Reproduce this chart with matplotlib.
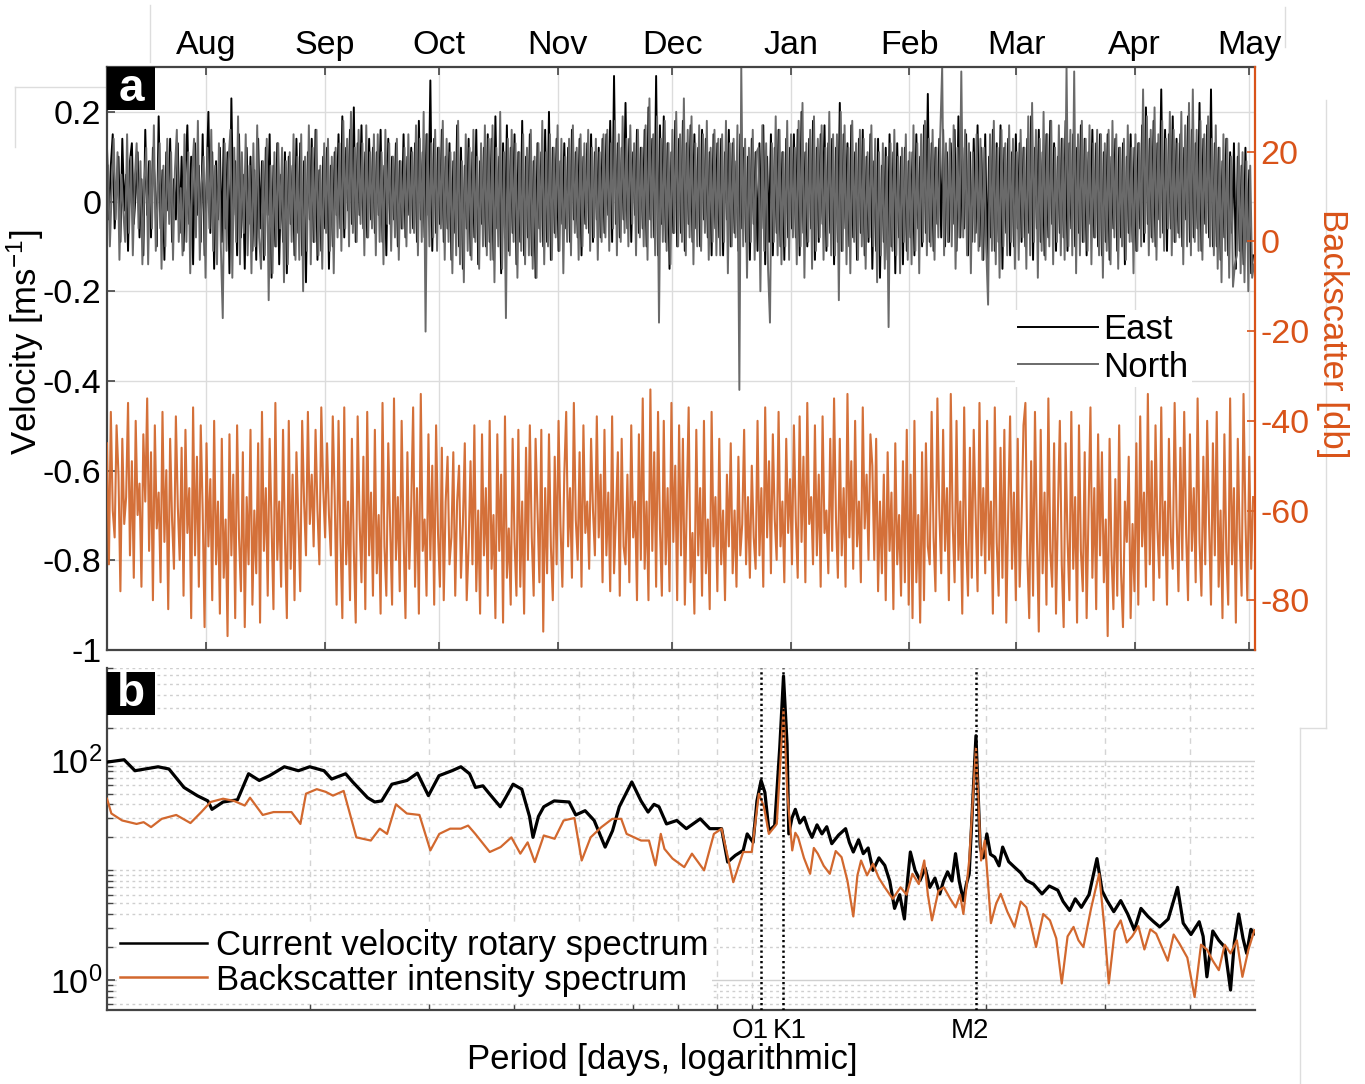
import numpy as np
import matplotlib
matplotlib.use('Agg')
import matplotlib.pyplot as plt
import matplotlib.dates as mdates
from matplotlib.patches import Rectangle
from matplotlib.lines import Line2D
from datetime import datetime

plt.rcParams['font.family'] = 'Liberation Sans'
plt.rcParams['mathtext.fontset'] = 'custom'
plt.rcParams['mathtext.rm'] = 'Liberation Sans'
plt.rcParams['mathtext.it'] = 'Liberation Sans:italic'
plt.rcParams['mathtext.bf'] = 'Liberation Sans:bold'
plt.rcParams['axes.unicode_minus'] = False

# ---------------- data ----------------
# record window and month labels
record_start = datetime(2013, 7, 6)
record_end = datetime(2014, 5, 2, 12)
month_names = ['Aug', 'Sep', 'Oct', 'Nov', 'Dec', 'Jan', 'Feb', 'Mar', 'Apr', 'May']
month_starts = [datetime(2013, 8, 1), datetime(2013, 9, 1), datetime(2013, 10, 1),
                datetime(2013, 11, 1), datetime(2013, 12, 1), datetime(2014, 1, 1),
                datetime(2014, 2, 1), datetime(2014, 3, 1), datetime(2014, 4, 1),
                datetime(2014, 5, 1)]

# 12 h velocity samples [cm/s]
east_cm = [
    12, -4, 8, 15, -6, 3, 10, -9, 14, -2, 6, -11, 9, 13, -5, 2, 11, -8, 5, -12,
    16, -3, 9, -8, 12, 4, -10, 19, -6, 7, -13, 11, -2, 14, -9, 5, -4, 13, -7, 10,
    -11, 6, 17, -5, 10, -14, 13, -3, 8, -9, 15, -12, 4, 20, -7, 11, -15, 9, -4, 12,
    -9, 14, -6, 11, -16, 23, -3, 9, -12, 15, -8, 6, -15, 12, -5, 10, -11, 7, -13, 14,
    -6, 9, -13, 12, -3, 15, -17, 8, -10, 13, -14, 6, -9, 11, -16, 10, -5, 8, -12, 14,
    -7, 13, -12, 9, -18, 11, -4, 14, -9, 16, -13, 7, -11, 10, -6, 12, -15, 8, -10, 11,
    -3, 15, -6, 19, -8, 12, -2, 16, -5, 21, -9, 13, -3, 17, -6, 11, -8, 14, -4, 12,
    -7, 11, -3, 16, -9, 8, -12, 14, -5, 10, -4, 13, -10, 9, -6, 15, -8, 10, -3, 12,
    -6, 13, -9, 18, -4, 11, -8, 15, -3, 27, -11, 14, -7, 12, -5, 16, -9, 10, -6, 13,
    -13, 9, -7, 17, -10, 12, -15, 8, -6, 14, -12, 11, -8, 16, -14, 9, -5, 12, -10, 15,
    -9, 14, -13, 19, -6, 10, -16, 13, -8, 17, -11, 12, -7, 15, -14, 11, -9, 18, -12, 10,
    -8, 15, -12, 9, -17, 13, -6, 11, -10, 16, -9, 20, -13, 12, -7, 14, -11, 9, -5, 13,
    -6, 12, -9, 16, -4, 11, -8, 14, -12, 10, -5, 13, -7, 15, -9, 11, -4, 12, -8, 14,
    -7, 15, -3, 18, -9, 28, -5, 13, -8, 12, -4, 22, -6, 14, -9, 11, -3, 16, -7, 12,
    -6, 16, -10, 21, -4, 14, -8, 28, -12, 17, -5, 19, -9, 13, -15, 11, -7, 18, -10, 14,
    -7, 18, -11, 13, -5, 17, -9, 15, -6, 12, -10, 16, -4, 14, -8, 11, -12, 15, -6, 13,
    -8, 14, -12, 11, -4, 16, -10, 13, -7, 9, -11, 15, -6, 12, -9, 10, -13, 14, -5, 11,
    -11, 13, -6, 17, -14, 10, -9, 15, -12, 12, -7, 16, -10, 11, -13, 14, -8, 12, -6, 15,
    -8, 16, -12, 20, -7, 11, -10, 14, -6, 18, -13, 12, -9, 15, -5, 17, -11, 13, -7, 14,
    -14, 12, -9, 22, -11, 15, -6, 13, -10, 17, -8, 11, -13, 14, -7, 16, -12, 10, -9, 15,
    -15, 9, -11, 14, -17, 8, -9, 12, -13, 15, -10, 11, -16, 13, -8, 10, -14, 12, -11, 9,
    -8, 11, -12, 15, -6, 10, -10, 17, -7, 24, -9, 13, -11, 12, -5, 14, -8, 16, -10, 11,
    -9, 13, -5, 16, -11, 19, -8, 12, -6, 15, -12, 11, -9, 14, -7, 17, -10, 12, -13, 15,
    -14, 10, -8, 16, -11, 13, -9, 17, -15, 12, -7, 14, -12, 11, -10, 15, -6, 13, -9, 12,
    -10, 14, -7, 19, -13, 12, -6, 16, -9, 11, -12, 15, -8, 18, -5, 13, -11, 10, -7, 14,
    -8, 18, -11, 13, -6, 15, -10, 12, -7, 17, -9, 14, -12, 11, -5, 16, -8, 13, -10, 15,
    -12, 11, -9, 15, -13, 10, -6, 14, -11, 12, -8, 13, -14, 10, -7, 15, -9, 12, -11, 13,
    -6, 17, -9, 21, -5, 14, -8, 18, -10, 13, -4, 25, -7, 16, -11, 15, -6, 19, -9, 14,
    -7, 15, -10, 12, -4, 19, -9, 16, -8, 13, -6, 22, -11, 14, -5, 17, -8, 25, -10, 13,
    -10, 12, -13, 9, -8, 14, -12, 11, -7, 13, -15, 10, -11, 8, -14, 12, -9, 7, -16, -12]

north_cm = [
    8, -10, 3, 14, -4, 11, -13, 6, -2, -9, 15, -7, 10, -12, 5, 13, -6, 9, -14, 4,
    12, -14, 9, -6, 17, -11, 2, 13, -15, 8, -10, 14, -5, 11, -13, 7, 16, -9, 3, -12,
    15, -9, 11, -16, 6, 14, -8, 18, -13, 4, 10, -17, 12, -6, 16, -11, 8, -14, 13, -10,
    -26, 13, -11, 9, 16, -17, 12, -9, 19, -14, 11, -7, 15, -12, 8, -16, 13, -10, 17, -8,
    -15, 9, -12, 14, -22, 8, -16, 11, -10, 13, -6, 12, -18, 9, -14, 11, -9, 15, -13, 10,
    -13, 15, -20, 10, -11, 17, -14, 12, -9, 16, -12, 8, -15, 13, -7, 14, -11, 10, -16, 12,
    -8, 13, -11, 18, -6, 14, -10, 20, -7, 12, -9, 16, -5, 13, -12, 17, -8, 11, -6, 15,
    -12, 15, -9, 11, -14, 16, -5, 13, -11, 10, -8, 14, -13, 9, -6, 12, -10, 15, -7, 11,
    -7, 17, -12, 14, -9, 20, -29, 15, -10, 13, -8, 16, -11, 12, -6, 18, -13, 14, -9, 11,
    -16, 11, -12, 18, -14, 9, -18, 15, -11, 12, -13, 16, -9, 10, -15, 13, -10, 17, -12, 14,
    -13, 17, -18, 12, -10, 20, -15, 11, -26, 14, -12, 16, -9, 13, -17, 11, -11, 15, -14, 12,
    -12, 16, -15, 10, -17, 13, -9, 18, -14, 11, -10, 15, -13, 12, -8, 17, -11, 14, -16, 10,
    -9, 14, -12, 17, -7, 12, -13, 15, -10, 13, -6, 16, -11, 12, -8, 14, -13, 11, -9, 15,
    -8, 16, -11, 13, -6, 18, -12, 15, -9, 19, -7, 14, -10, 17, -5, 13, -12, 16, -8, 12,
    -10, 17, -13, 23, -8, 15, -12, 19, -27, 14, -9, 18, -11, 13, -14, 16, -7, 20, -10, 15,
    -9, 23, -12, 16, -8, 19, -14, 13, -10, 17, -11, 15, -7, 18, -13, 12, -9, 16, -12, 14,
    -12, 15, -9, 18, -16, 13, -10, 14, -8, 17, -42, 30, -10, 14, -17, 12, -9, 16, -13, 11,
    12, -20, 17, -11, 13, -15, -27, 13, -9, 19, -12, 16, -14, 11, -10, 18, -13, 15, -8, 12,
    -14, 18, -10, 22, -17, 13, -9, 16, -15, 19, -11, 14, -8, 17, -13, 12, -10, 20, -12, 15,
    -12, 15, -22, 20, -11, 17, -14, 12, -16, 18, -9, 13, -13, 16, -10, 14, -15, 11, -8, 17,
    -10, 14, -18, 11, -12, 13, -15, 10, -28, 13, -11, 16, -12, 10, -16, 12, -9, 15, -13, 11,
    -14, 17, -11, 13, -16, 15, -9, 18, -12, 14, -10, 16, -13, 12, -8, 15, 30, -12, 13, -9,
    14, -10, 17, -15, 12, -8, 29, -8, 16, -12, 13, -16, 11, -9, 15, -11, 14, -13, 12, -10,
    -23, 15, -11, 18, -14, 12, -17, 16, -10, 13, -12, 17, -9, 14, -15, 11, -13, 16, -8, 12,
    -15, 19, -12, 22, -9, 16, -17, 14, -11, 20, -13, 15, -10, 18, -14, 12, -9, 17, -12, 14,
    -13, 30, -10, 16, -12, 29, -16, 15, -12, 18, -9, 14, -11, 17, -14, 13, -8, 16, -12, 15,
    -17, 13, -11, 16, -14, 18, -8, 15, -15, 12, -10, 14, -13, 17, -9, 12, -16, 15, -11, 13,
    -10, 25, -7, 19, -12, 16, -9, 21, -13, 15, -8, 18, -11, 14, -6, 20, -12, 16, -9, 13,
    -8, 20, -14, 17, -10, 22, -12, 25, -9, 16, -11, 18, -13, 15, -7, 19, -10, 14, -12, 17,
    -15, 12, -18, 15, -11, 14, -17, 10, -19, -14, -12, 13, -16, 11, -18, 9, -20, 8, -17, -14]

# 12 h backscatter intensity samples [dB]
backscatter_db = [
    -45, -72, -38, -60, -66, -41, -52, -78, -44, -63, -57, -36, -70, -49, -75, -40, -61, -54, -77, -43,
    -58, -35, -69, -47, -80, -41, -64, -56, -76, -38, -67, -51, -82, -44, -62, -73, -39, -59, -71, -46,
    -79, -42, -65, -55, -84, -37, -70, -48, -77, -41, -60, -86, -45, -68, -53, -80, -40, -72, -58, -83,
    -44, -75, -62, -88, -43, -70, -52, -84, -41, -66, -78, -47, -86, -57, -72, -42, -81, -60, -74, -45,
    -85, -38, -69, -55, -79, -44, -63, -82, -36, -71, -58, -77, -42, -66, -84, -40, -73, -52, -80, -47,
    -62, -78, -40, -58, -70, -38, -63, -52, -68, -42, -60, -72, -37, -55, -66, -45, -61, -70, -39, -57,
    -81, -40, -66, -84, -37, -72, -58, -80, -44, -69, -85, -39, -62, -76, -48, -82, -38, -70, -56, -79,
    -42, -74, -61, -83, -36, -68, -79, -45, -64, -81, -35, -71, -57, -78, -40, -66, -84, -47, -73, -59,
    -37, -77, -55, -83, -34, -69, -62, -79, -43, -71, -50, -81, -41, -65, -77, -46, -80, -58, -48, -72,
    -66, -47, -79, -58, -50, -75, -63, -45, -80, -68, -49, -72, -41, -78, -60, -83, -43, -70, -55, -79,
    -40, -73, -61, -84, -43, -69, -52, -85, -39, -75, -64, -81, -44, -67, -79, -42, -77, -58, -83, -46,
    -71, -41, -66, -79, -44, -60, -76, -42, -87, -55, -74, -43, -68, -80, -48, -72, -40, -63, -77, -52,
    -38, -68, -55, -75, -36, -62, -71, -47, -77, -41, -65, -58, -73, -44, -60, -70, -39, -66, -52, -76,
    -42, -70, -56, -78, -39, -74, -61, -47, -79, -44, -68, -72, -52, -76, -41, -66, -58, -80, -43, -71,
    -35, -73, -58, -80, -33, -69, -47, -77, -38, -64, -79, -40, -72, -55, -78, -36, -67, -50, -80, -41,
    -70, -44, -81, -59, -37, -76, -65, -83, -42, -70, -55, -79, -40, -74, -62, -82, -38, -68, -57, -78,
    -44, -72, -60, -80, -52, -68, -45, -74, -60, -77, -48, -70, -63, -42, -72, -57, -75, -50, -66, -73,
    -40, -70, -55, -77, -37, -66, -49, -74, -43, -62, -71, -38, -68, -58, -76, -44, -65, -53, -72, -41,
    -62, -75, -39, -67, -48, -76, -36, -63, -57, -72, -41, -70, -52, -77, -39, -65, -60, -74, -44, -69,
    -35, -62, -75, -44, -70, -55, -77, -34, -66, -49, -73, -40, -68, -58, -76, -37, -64, -52, -71, -43,
    -50, -71, -44, -78, -58, -74, -52, -80, -47, -69, -56, -82, -45, -72, -61, -79, -49, -76, -42, -81,
    -52, -84, -40, -76, -61, -85, -47, -80, -45, -68, -72, -38, -66, -78, -35, -60, -74, -42, -69, -55,
    -80, -34, -63, -76, -40, -71, -58, -83, -37, -67, -79, -46, -75, -42, -61, -78, -36, -70, -55, -74,
    -40, -71, -58, -83, -37, -67, -79, -46, -75, -42, -85, -61, -39, -73, -56, -80, -44, -77, -62, -41,
    -36, -70, -84, -49, -79, -38, -65, -87, -42, -74, -56, -81, -35, -69, -77, -45, -83, -60, -40, -72,
    -86, -45, -66, -80, -38, -73, -57, -85, -41, -69, -78, -47, -84, -61, -37, -75, -55, -82, -43, -70,
    -47, -76, -62, -88, -44, -70, -82, -53, -79, -41, -74, -86, -58, -67, -48, -84, -63, -78, -45, -81,
    -39, -68, -56, -77, -34, -72, -49, -80, -41, -64, -75, -37, -70, -58, -81, -44, -66, -73, -36, -61,
    -78, -46, -71, -38, -65, -80, -43, -69, -55, -76, -35, -67, -79, -48, -72, -40, -63, -81, -45, -70,
    -38, -77, -60, -84, -43, -69, -81, -35, -72, -55, -85, -44, -66, -79, -34, -62, -80, -48, -73, -57]

# spectra vs frequency [cycles per day]
velocity_freq = [0.100, 0.106, 0.110, 0.119, 0.1235, 0.130, 0.136, 0.141, 0.143, 0.1485,
                 0.156, 0.162, 0.168, 0.174, 0.183, 0.192, 0.1995, 0.2095, 0.215, 0.2255,
                 0.231, 0.243, 0.249, 0.255, 0.264, 0.278, 0.288, 0.299, 0.310, 0.324,
                 0.334, 0.344, 0.351, 0.360, 0.368, 0.382, 0.389, 0.399, 0.411, 0.422,
                 0.427, 0.435, 0.443, 0.459, 0.483, 0.494, 0.510, 0.526, 0.546, 0.560,
                 0.573, 0.598, 0.617, 0.632, 0.645, 0.656, 0.673, 0.697, 0.720, 0.755,
                 0.780, 0.812, 0.829, 0.851, 0.874, 0.886, 0.904, 0.916, 0.929, 0.941,
                 0.954, 0.973, 0.990, 1.0027, 1.015,
                 1.021, 1.032, 1.044, 1.060, 1.076, 1.09, 1.105, 1.124, 1.143, 1.162,
                 1.182, 1.21, 1.239, 1.255, 1.272, 1.295, 1.316, 1.338, 1.360, 1.388,
                 1.416, 1.44, 1.464, 1.49, 1.514, 1.53, 1.545, 1.57, 1.597, 1.625,
                 1.651, 1.68, 1.708, 1.73, 1.754, 1.78, 1.802, 1.825, 1.851, 1.87,
                 1.888, 1.932, 1.960, 1.98, 2.005, 2.03, 2.06, 2.09, 2.116, 2.16,
                 2.203, 2.25, 2.294, 2.35, 2.42, 2.48, 2.553, 2.60, 2.659, 2.71,
                 2.767, 2.84, 2.918, 2.97, 3.02, 3.09, 3.164, 3.24, 3.315, 3.39,
                 3.472, 3.54, 3.614, 3.72, 3.84, 3.915, 4.02, 4.134, 4.19, 4.244,
                 4.33, 4.42, 4.51, 4.6, 4.66, 4.73, 4.80, 4.86, 4.93, 4.99]
velocity_psd = [97, 102, 81, 88, 84, 57, 48, 43, 36, 42,
                44, 76, 66, 73, 88, 81, 88, 81, 68, 76,
                64, 46, 42, 43, 61, 66, 77, 48, 73, 81,
                88, 76, 57, 59, 50, 38, 46, 61, 55, 31,
                20, 31, 38, 43, 42, 32, 35, 28.5, 16.3, 23,
                38, 64, 43, 34, 40, 38, 26.5, 28.5, 24, 29.5,
                24, 24, 11.9, 13.7, 15.2, 21.5, 18, 43, 66, 51.5,
                23, 25.6, 132, 590, 142,
                21.5, 30, 36, 27, 30.5, 24, 20, 26, 21.5, 25,
                17.5, 21, 24, 18, 14.7, 19, 14.2, 16, 10, 13,
                11.1, 8, 4.5, 6, 3.6, 8, 14.7, 10, 8.1, 10.5,
                7.0, 8.5, 6.1, 8, 9.7, 8, 14.2, 8, 5.3, 7.5,
                9.3, 169, 16.3, 13, 21.5, 14, 13.2, 11, 16.3, 12,
                10.7, 9.5, 8.1, 7.5, 6.1, 7.2, 6.6, 5.2, 4.3, 5.5,
                4.6, 6, 12.8, 6.5, 5.3, 4.2, 5.3, 4, 2.85, 4.5,
                3.8, 3.4, 3.05, 3.6, 7.0, 3.3, 2.6, 3.4, 2.5, 1.07,
                2.8, 2.3, 2.0, 0.81, 2.2, 4.0, 2.4, 1.75, 2.9, 2.65]

backscatter_freq = [0.100, 0.1015, 0.1053, 0.1106, 0.1133, 0.1162, 0.1205, 0.1266, 0.1329, 0.1379,
                    0.1423, 0.1485, 0.1541, 0.1599, 0.1628, 0.170, 0.1764, 0.1875, 0.1933, 0.197,
                    0.2044, 0.2107, 0.216, 0.224, 0.2339, 0.2457, 0.2533, 0.2597, 0.2677, 0.2778,
                    0.29, 0.301, 0.3103, 0.322, 0.334, 0.3423, 0.3508, 0.3685, 0.3824, 0.3967,
                    0.409, 0.4193, 0.4296, 0.443, 0.4597, 0.474, 0.4918, 0.5041, 0.5197, 0.5392,
                    0.5595, 0.5768, 0.5875, 0.6171, 0.634, 0.6482, 0.660, 0.6683, 0.687, 0.715,
                    0.734, 0.765, 0.791, 0.812, 0.845, 0.874, 0.900, 0.922, 0.938, 0.954,
                    0.980, 1.0027, 1.016,
                    1.033, 1.044, 1.054, 1.075, 1.098, 1.112, 1.127, 1.15, 1.174, 1.198,
                    1.222, 1.247, 1.272, 1.29, 1.306, 1.333, 1.36, 1.388, 1.416, 1.455,
                    1.494, 1.525, 1.556, 1.59, 1.62, 1.64, 1.663, 1.70, 1.732, 1.77,
                    1.803, 1.83, 1.851, 1.87, 1.888, 1.932, 1.966, 1.991, 2.012, 2.033,
                    2.07, 2.102, 2.15, 2.203, 2.25, 2.294, 2.33, 2.371, 2.43, 2.486,
                    2.54, 2.588, 2.64, 2.694, 2.74, 2.786, 2.86, 2.94, 2.99, 3.038,
                    3.10, 3.164, 3.23, 3.29, 3.36, 3.43, 3.50, 3.57, 3.64, 3.714,
                    3.79, 3.865, 3.97, 4.07, 4.16, 4.244, 4.33, 4.42, 4.51, 4.6,
                    4.70, 4.79, 4.89, 4.99]
backscatter_psd = [45, 33, 28.5, 26.5, 27.5, 24.8, 29.5, 32, 27, 34,
                   42, 45, 43, 39, 46, 32, 34, 34, 26.5, 50,
                   55, 52, 48, 53, 20, 18.7, 24, 21.5, 40, 33,
                   32, 15.2, 21.5, 24, 24, 25.6, 21.5, 14.7, 16.3, 20,
                   14.2, 18, 11.9, 20.8, 19.4, 28.5, 30, 12.3, 20, 24.8,
                   29.5, 29.5, 21.5, 18.7, 18.7, 11.1, 21.5, 15.7, 12.8, 10.7,
                   14.2, 10, 21.5, 24, 7.8, 14.7, 14.7, 50, 38, 21.5,
                   26.5, 295, 50,
                   15.2, 22, 20, 13, 9.3, 16, 14.2, 11, 9.3, 15,
                   13.2, 8, 3.8, 9, 12.3, 9, 11.5, 8.5, 7.0, 5.5,
                   7.0, 6, 9.3, 7.5, 12.3, 6, 3.5, 6.5, 7.0, 5.5,
                   4.6, 6, 4.0, 7, 12.3, 132, 12.3, 18.7, 8, 3.3,
                   5, 6.1, 4.2, 3.05, 5.2, 4.6, 3.2, 2.0, 4, 3.5,
                   2.4, 0.93, 2.5, 3.05, 2.3, 2.0, 4.5, 9.3, 3.2, 0.93,
                   2.8, 3.5, 2.2, 2.5, 3.1, 1.9, 2.9, 2.65, 2.0, 1.5,
                   2.6, 2.15, 1.6, 0.70, 2.1, 1.9, 1.5, 1.23, 2.1, 1.75,
                   2.3, 1.07, 1.9, 2.85]

# tidal constituents [cycles per day]
tide_names = ['O1', 'K1', 'M2']
tide_freq = [0.9295, 1.0027, 1.9323]

# ---------------- figure ----------------
W, H = 1365, 1084
fs = 24.5
fs_lab = 25
orange = '#D2682E'
orange_ax = '#D95319'
gray = '#6A6A6A'
spine_c = '#444444'
grid_c = '#DCDCDC'

fig = plt.figure(figsize=(W / 100, H / 100), dpi=100)

def px_rect(x0, y0, x1, y1):
    return [x0 / W, 1 - y1 / H, (x1 - x0) / W, (y1 - y0) / H]

# ----- panel a: velocity and backscatter time series -----
ax1 = fig.add_axes(px_rect(107, 67, 1255, 650))
ax1r = ax1.twinx()

t0 = mdates.date2num(record_start)
t1 = mdates.date2num(record_end)
step_v = (t1 - t0) / len(east_cm)
t_east = t0 + np.arange(len(east_cm)) * step_v
t_north = t0 + (np.arange(len(north_cm)) + 0.5) * step_v
t_bs = t0 + np.arange(len(backscatter_db)) * (t1 - t0) / len(backscatter_db)

ax1.plot(t_east, np.array(east_cm) / 100., color='k', linewidth=1.4)
ax1.plot(t_north, np.array(north_cm) / 100., color=gray, linewidth=1.4)
ax1r.plot(t_bs, backscatter_db, color=orange, linewidth=1.5, alpha=0.95)

ax1.set_xlim(t0, t1)
ax1.set_ylim(-1, 0.3)
ax1.set_yticks([-1, -0.8, -0.6, -0.4, -0.2, 0, 0.2])
ax1.set_yticklabels(['-1', '-0.8', '-0.6', '-0.4', '-0.2', '0', '0.2'])
ax1.set_xticks(mdates.date2num(month_starts))
ax1.set_xticklabels(month_names)
ax1.tick_params(axis='x', top=True, bottom=True, labeltop=True, labelbottom=False,
                direction='in', length=6, width=1.2, color=spine_c, labelsize=fs, pad=4)
ax1.tick_params(axis='y', direction='in', length=6, width=1.2, color=spine_c, labelsize=fs, pad=4)
ax1.grid(True, color=grid_c, linewidth=1)
ax1.set_axisbelow(True)
for s in ['left', 'bottom', 'top']:
    ax1.spines[s].set_color(spine_c)
    ax1.spines[s].set_linewidth(1.6)
ax1.spines['right'].set_visible(False)

ax1r.set_ylim(-91.1, 38.9)
ax1r.set_yticks([-80, -60, -40, -20, 0, 20])
ax1r.tick_params(axis='y', direction='in', length=6, width=1.2, color=orange_ax,
                 labelcolor=orange_ax, labelsize=fs, pad=4)
for s in ['left', 'bottom', 'top']:
    ax1r.spines[s].set_visible(False)
ax1r.spines['right'].set_color(orange_ax)
ax1r.spines['right'].set_linewidth(1.6)

ax1r.legend([Line2D([], [], color='k', linewidth=1.4), Line2D([], [], color=gray, linewidth=1.4)],
            ['East', 'North'], loc='upper left', bbox_to_anchor=(1015 / W, 1 - 310 / H),
            bbox_transform=fig.transFigure, fontsize=fs_lab, frameon=True, facecolor='white',
            edgecolor='none', framealpha=1, fancybox=False, handlelength=2.3,
            handletextpad=0.15, labelspacing=0.12, borderpad=0.1, borderaxespad=0)

fig.text(25 / W, 1 - 342 / H, 'Velocity [ms$^{-1}$]', rotation=90, ha='center', va='center', fontsize=fs_lab)
fig.text(1333 / W, 1 - 334 / H, 'Backscatter [db]', rotation=270, ha='center', va='center',
         fontsize=fs_lab, color=orange_ax)

# ----- panel b: spectra -----
axb = fig.add_axes(px_rect(107, 668, 1255, 1010))
axb.set_xscale('log')
axb.set_yscale('log')
axb.plot(velocity_freq, velocity_psd, color='k', linewidth=2.3, zorder=3)
axb.plot(backscatter_freq, backscatter_psd, color=orange, linewidth=1.6, zorder=4)
for f in tide_freq:
    axb.axvline(f, color='k', linestyle=(0, (0.9, 1.2)), linewidth=1.8, zorder=5)

axb.set_xlim(0.1, 5)
axb.set_ylim(0.533, 700)
axb.set_xticks([])
axb.set_xticks([0.2, 0.3, 0.4, 0.5, 0.6, 0.7, 0.8, 0.9, 2, 3, 4], minor=True)
axb.xaxis.set_minor_formatter(plt.NullFormatter())
axb.set_yticks([1, 100])
axb.set_yticklabels(['$10^0$', '$10^2$'])
ymin = [0.6, 0.7, 0.8, 0.9] + [k for k in range(2, 10)] + [10] + [10 * k for k in range(2, 10)] + [100 * k for k in range(2, 8)]
axb.set_yticks(ymin, minor=True)
axb.yaxis.set_minor_formatter(plt.NullFormatter())
axb.tick_params(axis='both', which='both', direction='in', color=spine_c, labelsize=fs)
axb.tick_params(axis='both', which='major', length=6, width=1.2)
axb.tick_params(axis='both', which='minor', length=4, width=1.0)
axb.grid(True, which='major', axis='y', color='#D0D0D0', linewidth=1)
axb.grid(True, which='minor', axis='y', color='#CFCFCF', linewidth=1, linestyle=(0, (2, 2.5)))
axb.grid(True, which='minor', axis='x', color='#D4D4D4', linewidth=1, linestyle=(0, (4, 4)))
axb.set_axisbelow(True)
for s in ['top', 'right']:
    axb.spines[s].set_visible(False)
for s in ['left', 'bottom']:
    axb.spines[s].set_color(spine_c)
    axb.spines[s].set_linewidth(1.6)

tide_offsets = [(8, 'right'), (-11, 'left'), (-6, 'center')]
for name, f, (dx, ha) in zip(tide_names, tide_freq, tide_offsets):
    axb.annotate(name, xy=(f, 0), xycoords=('data', 'axes fraction'), xytext=(dx, -8),
                 textcoords='offset pixels', ha=ha, va='top', fontsize=20)

axb.legend([Line2D([], [], color='k', linewidth=1.8), Line2D([], [], color=orange, linewidth=1.8)],
           ['Current velocity rotary spectrum', 'Backscatter intensity spectrum'],
           loc='lower left', bbox_to_anchor=(117 / W, 1 - 1000 / H), bbox_transform=fig.transFigure,
           fontsize=fs_lab, frameon=True, facecolor='white', edgecolor='none', framealpha=1,
           fancybox=False, handlelength=2.5, handletextpad=0.25, labelspacing=0.05,
           borderpad=0.1, borderaxespad=0)

fig.text(662 / W, 1 - 1060 / H, 'Period [days, logarithmic]', ha='center', va='center', fontsize=fs_lab)

# panel letters
for letter, ytop in [('a', 67), ('b', 672)]:
    fig.add_artist(Rectangle((107 / W, 1 - (ytop + 43) / H), 48 / W, 43 / H, transform=fig.transFigure,
                             facecolor='black', edgecolor='none', zorder=10))
    fig.text(131 / W, 1 - (ytop + 22) / H, letter, color='white', fontsize=33, fontweight='bold',
             ha='center', va='center', zorder=11)

# faint frame lines along the page edges
edge_lines = [((150, 150), (5, 62)), ((15, 105), (87, 87)), ((15, 15), (87, 147)),
              ((1285, 1285), (7, 47)), ((1326, 1326), (100, 728)), ((1300, 1326), (728, 728)),
              ((1300, 1300), (728, 1084))]
for xs, ys in edge_lines:
    fig.add_artist(Line2D([x / W for x in xs], [1 - y / H for y in ys], transform=fig.transFigure,
                          color='#DDDDDD', linewidth=1, zorder=0))

fig.savefig('out.png', dpi=100)
